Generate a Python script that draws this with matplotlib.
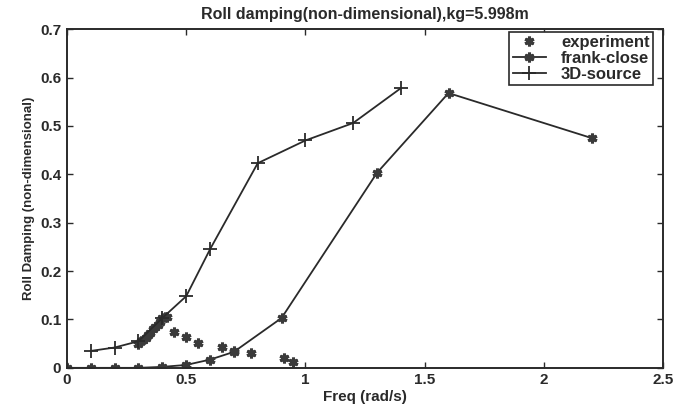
import numpy as np
import matplotlib.pyplot as plt

# values
exp_freq = [0.30, 0.31, 0.32, 0.33, 0.34, 0.35, 0.36, 0.37, 0.38, 0.39, 0.40, 0.41, 0.42,
            0.45, 0.50, 0.55, 0.65, 0.70, 0.77, 0.91, 0.95]
exp_damp = [0.050, 0.055, 0.058, 0.062, 0.068, 0.073, 0.080, 0.085, 0.089, 0.095, 0.102, 0.105, 0.106,
            0.074, 0.063, 0.052, 0.043, 0.034, 0.031, 0.021, 0.013]

frank_freq = [0.0, 0.1, 0.2, 0.3, 0.4, 0.5, 0.6, 0.7, 0.9, 1.3, 1.6, 2.2]
frank_damp = [0.0, 0.0, 0.0, 0.0, 0.002, 0.006, 0.017, 0.033, 0.103, 0.403, 0.568, 0.475]

src_freq = [0.1, 0.2, 0.3, 0.4, 0.5, 0.6, 0.8, 1.0, 1.2, 1.4]
src_damp = [0.035, 0.042, 0.055, 0.103, 0.148, 0.245, 0.423, 0.470, 0.506, 0.578]

xticks = [0, 0.5, 1, 1.5, 2, 2.5]
xticklabels = ['0', '0.5', '1', '1.5', '2', '2.5']
yticks = [0, 0.1, 0.2, 0.3, 0.4, 0.5, 0.6, 0.7]
yticklabels = ['0', '0.1', '0.2', '0.3', '0.4', '0.5', '0.6', '0.7']

plt.rcParams['font.family'] = ['Liberation Sans', 'DejaVu Sans']
plt.rcParams['font.weight'] = 'bold'
plt.rcParams['axes.titleweight'] = 'bold'
plt.rcParams['axes.labelweight'] = 'bold'

fig = plt.figure(figsize=(6.76, 4.11), dpi=100)
ax = fig.add_axes([0.099, 0.105, 0.882, 0.824])

ink = '#2a2a2a'
star = (6, 2, 0)
ax.plot(exp_freq, exp_damp, linestyle='none', marker=star, markersize=7,
        markeredgewidth=2.2, color='#3a3a3a', label='experiment')
ax.plot(frank_freq, frank_damp, '-', color=ink, linewidth=1.3, marker=star, markersize=7,
        markeredgewidth=2.2, markeredgecolor='#3a3a3a', label='frank-close')
ax.plot(src_freq, src_damp, '-', color=ink, linewidth=1.3, marker='+', markersize=10,
        markeredgewidth=1.3, label='3D-source')

ax.set_xlim(0, 2.5)
ax.set_ylim(0, 0.7)
ax.set_xticks(xticks)
ax.set_xticklabels(xticklabels)
ax.set_yticks(yticks)
ax.set_yticklabels(yticklabels)
ax.tick_params(direction='in', top=True, right=True, length=4, width=1, labelsize=11,
               colors=ink, pad=4)
for s in ax.spines.values():
    s.set_linewidth(1.4)
    s.set_color(ink)

ax.set_title('Roll damping(non-dimensional),kg=5.998m', fontsize=11.5, color=ink, pad=7)
ax.set_xlabel('Freq (rad/s)', fontsize=11, color=ink, labelpad=2)
ax.set_ylabel('Roll Damping (non-dimensional)', fontsize=9.5, color=ink, labelpad=4)

leg = ax.legend(loc='upper right', bbox_to_anchor=(0.983, 0.993), fontsize=12, fancybox=False,
                edgecolor=ink, framealpha=1, borderpad=0.2, labelspacing=0.05,
                handlelength=2.0, handletextpad=0.9, borderaxespad=0)
leg.get_frame().set_linewidth(1.2)
for t in leg.get_texts():
    t.set_color(ink)

plt.savefig('out.png', dpi=100)
